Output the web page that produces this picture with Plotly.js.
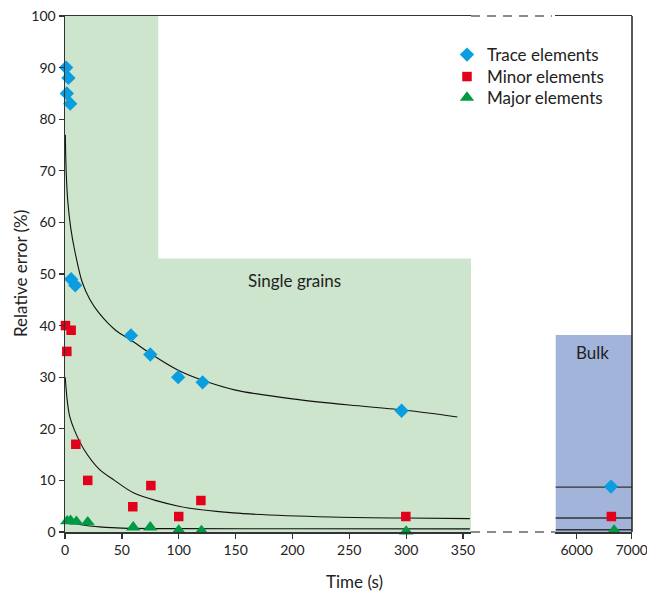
<!DOCTYPE html>
<html>
<head>
<meta charset="utf-8">
<script src="https://cdn.plot.ly/plotly-3.0.1.min.js"></script>
<style>html,body{margin:0;padding:0;background:#fff;}#chart{width:647px;height:591px;}</style>
</head>
<body>
<div id="chart"></div>
<script>
// ---- data ----
var traceT   = [1, 1.6, 3, 4.6, 5.4, 9, 58, 75, 99.5, 121, 296];
var traceErr = [90, 85, 88, 83, 49, 47.8, 38.1, 34.4, 30, 29, 23.5];
var minorT   = [0.4, 1.6, 5.4, 9.5, 20, 59.6, 75.5, 100, 119.5, 299.7];
var minorErr = [40, 35, 39.1, 17, 10, 4.9, 9, 3, 6.1, 3];
var majorT   = [1.9, 4.8, 10, 20, 60, 75, 100, 120, 300];
var majorErr = [2.1, 2.2, 2.0, 1.9, 0.9, 0.9, 0.3, 0.2, 0.1];

var bulkTraceT = [6624], bulkTraceErr = [8.8];
var bulkMinorT = [6630], bulkMinorErr = [3];
var bulkMajorT = [6680], bulkMajorErr = [0.3];

var traceFitT   = [0.3, 1, 2.5, 5, 8.4, 15, 22, 30, 45, 58, 75, 100, 121, 150, 200, 250, 300, 345];
var traceFitErr = [77, 70, 64, 59, 54.7, 48.5, 45, 42.4, 39, 37.2, 34.6, 31.3, 29.4, 27.5, 25.8, 24.6, 23.6, 22.3];
var minorFitT   = [0.2, 1.9, 4, 8.4, 17, 30, 43.5, 61, 100, 148, 233, 300, 356];
var minorFitErr = [30, 25.6, 22.5, 19.7, 15.9, 12.2, 10, 7.5, 5, 3.7, 2.9, 2.7, 2.6];
var majorFitT   = [0.2, 5, 10, 20, 30, 50, 100, 200, 356];
var majorFitErr = [2.5, 2.0, 1.6, 1.2, 1.0, 0.75, 0.65, 0.62, 0.6];

var bulkFitT = [5615, 7005];
var bulkTraceFit = [8.7, 8.7];
var bulkMinorFit = [2.7, 2.7];
var bulkMajorFit = [0.45, 0.45];

// region extents (time, error)
var singleWideT = [0, 357], singleWideErr = [0, 53];
var singleNarrowT = [0, 82], singleNarrowErr = [0, 100];
var bulkRegionT = [5615, 7005], bulkRegionErr = [0, 38.2];

var xTicks1 = [0, 50, 100, 150, 200, 250, 300, 350];
var xTicks2 = [6000, 7000];
var yTicks = [0, 10, 20, 30, 40, 50, 60, 70, 80, 90, 100];

var seriesNames = ['Trace elements', 'Minor elements', 'Major elements'];

// ---- styles ----
var FONT = 'Lato, "Open Sans", sans-serif';
var cBlue = '#0a9de0', cRed = '#e2001a', cGreen = '#009a44';
var fitLine = {color: '#111', width: 1.1, shape: 'spline', smoothing: 0.8};
var bulkLine = {color: '#333', width: 1.4};
var mkTrace = {symbol: 'diamond', size: 11, color: cBlue};
var mkMinor = {symbol: 'square', size: 9.5, color: cRed};
var mkMajor = {symbol: 'triangle-up', size: 12.5, color: cGreen};

var data = [
  {x: traceFitT, y: traceFitErr, mode: 'lines', line: fitLine, showlegend: false, hoverinfo: 'skip', xaxis: 'x', yaxis: 'y'},
  {x: minorFitT, y: minorFitErr, mode: 'lines', line: fitLine, showlegend: false, hoverinfo: 'skip', xaxis: 'x', yaxis: 'y'},
  {x: majorFitT, y: majorFitErr, mode: 'lines', line: fitLine, showlegend: false, hoverinfo: 'skip', xaxis: 'x', yaxis: 'y'},
  {x: bulkFitT, y: bulkTraceFit, mode: 'lines', line: bulkLine, showlegend: false, xaxis: 'x2', yaxis: 'y'},
  {x: bulkFitT, y: bulkMinorFit, mode: 'lines', line: bulkLine, showlegend: false, xaxis: 'x2', yaxis: 'y'},
  {x: bulkFitT, y: bulkMajorFit, mode: 'lines', line: bulkLine, showlegend: false, xaxis: 'x2', yaxis: 'y'},
  {x: traceT, y: traceErr, name: seriesNames[0], legend: 'legend', mode: 'markers', marker: mkTrace, cliponaxis: false, xaxis: 'x', yaxis: 'y'},
  {x: minorT, y: minorErr, name: seriesNames[1], legend: 'legend2', mode: 'markers', marker: mkMinor, cliponaxis: false, xaxis: 'x', yaxis: 'y'},
  {x: majorT, y: majorErr, name: seriesNames[2], legend: 'legend3', mode: 'markers', marker: mkMajor, cliponaxis: false, xaxis: 'x', yaxis: 'y'},
  {x: bulkTraceT, y: bulkTraceErr, mode: 'markers', marker: mkTrace, showlegend: false, cliponaxis: false, xaxis: 'x2', yaxis: 'y'},
  {x: bulkMinorT, y: bulkMinorErr, mode: 'markers', marker: mkMinor, showlegend: false, cliponaxis: false, xaxis: 'x2', yaxis: 'y'},
  {x: bulkMajorT, y: bulkMajorErr, mode: 'markers', marker: mkMajor, showlegend: false, cliponaxis: false, xaxis: 'x2', yaxis: 'y'}
];

var axisLine = '#333';
var tickFont = {family: FONT, size: 14, color: '#222'};
var legFont = {family: FONT, size: 17, color: '#222'};

var d1 = [0, 0.716], d2 = [0.865, 1];
var legX = 0.6737;
function legendAt(py) {
  return {x: legX, y: 1 - (py - 16) / 516, xanchor: 'left', yanchor: 'middle', bgcolor: 'rgba(0,0,0,0)',
          font: legFont, itemwidth: 30, borderwidth: 0};
}

var layout = {
  width: 647, height: 591,
  margin: {l: 65, r: 15, t: 16, b: 59},
  paper_bgcolor: '#fff', plot_bgcolor: 'rgba(0,0,0,0)',
  font: {family: FONT, color: '#222'},
  showlegend: true,
  legend: legendAt(55),
  legend2: legendAt(77),
  legend3: legendAt(98),
  xaxis: {domain: d1, range: [0, 357], tickvals: xTicks1, ticks: 'outside', ticklen: 5, tickwidth: 1.3, tickcolor: axisLine,
          showline: true, linecolor: axisLine, linewidth: 1.5, mirror: true, showgrid: false, zeroline: false,
          tickfont: tickFont, anchor: 'y', ticklabeloverflow: 'allow'},
  xaxis2: {domain: d2, range: [5615, 7005], tickvals: xTicks2, ticks: 'outside', ticklen: 5, tickwidth: 1.3, tickcolor: axisLine,
          showline: true, linecolor: axisLine, linewidth: 1.5, mirror: true, showgrid: false, zeroline: false,
          tickfont: tickFont, anchor: 'y', ticklabeloverflow: 'allow'},
  yaxis: {range: [0, 100], tickvals: yTicks, ticks: 'outside', ticklen: 5, tickwidth: 1.3, tickcolor: axisLine,
          showline: true, linecolor: axisLine, linewidth: 1.5, showgrid: false, zeroline: false,
          tickfont: tickFont, anchor: 'x'},
  shapes: [
    {type: 'rect', layer: 'below', xref: 'x', yref: 'y', x0: singleNarrowT[0], x1: singleNarrowT[1], y0: singleNarrowErr[0], y1: singleNarrowErr[1], fillcolor: '#cde4cd', line: {width: 0}},
    {type: 'rect', layer: 'below', xref: 'x', yref: 'y', x0: singleWideT[0], x1: singleWideT[1], y0: singleWideErr[0], y1: singleWideErr[1], fillcolor: '#cde4cd', line: {width: 0}},
    {type: 'rect', layer: 'below', xref: 'x2', yref: 'y', x0: bulkRegionT[0], x1: bulkRegionT[1], y0: bulkRegionErr[0], y1: bulkRegionErr[1], fillcolor: '#a2b4d9', line: {width: 0}},
    {type: 'line', xref: 'paper', yref: 'paper', x0: d1[1], x1: d2[0], y0: 0, y1: 0, line: {color: '#666', width: 1.5, dash: '9px,7px'}},
    {type: 'line', xref: 'paper', yref: 'paper', x0: d1[1], x1: d2[0] - 0.006, y0: 1, y1: 1, line: {color: '#666', width: 1.5, dash: '9px,7px'}},
    {type: 'line', xref: 'paper', yref: 'paper', x0: 1, x1: 1, y0: 0, y1: 1, line: {color: '#222', width: 1.5}}
  ],
  annotations: [
    {xref: 'x', yref: 'y', x: 202, y: 48.7, text: 'Single grains', showarrow: false, font: {family: FONT, size: 17, color: '#222'}},
    {xref: 'x2', yref: 'y', x: 6296, y: 34.7, text: 'Bulk', showarrow: false, font: {family: FONT, size: 17, color: '#222'}},
    {xref: 'paper', yref: 'paper', x: (354 - 65) / 567, xanchor: 'center', y: -0.095, yanchor: 'middle', text: 'Time (s)', showarrow: false, font: {family: FONT, size: 17, color: '#222'}},
    {xref: 'paper', yref: 'paper', x: (20 - 65) / 567, xanchor: 'center', y: 0.5, yanchor: 'middle', textangle: -90, text: 'Relative error (%)', showarrow: false, font: {family: FONT, size: 17, color: '#222'}}
  ]
};

Plotly.newPlot('chart', data, layout, {displayModeBar: false, staticPlot: true});
</script>
</body>
</html>
